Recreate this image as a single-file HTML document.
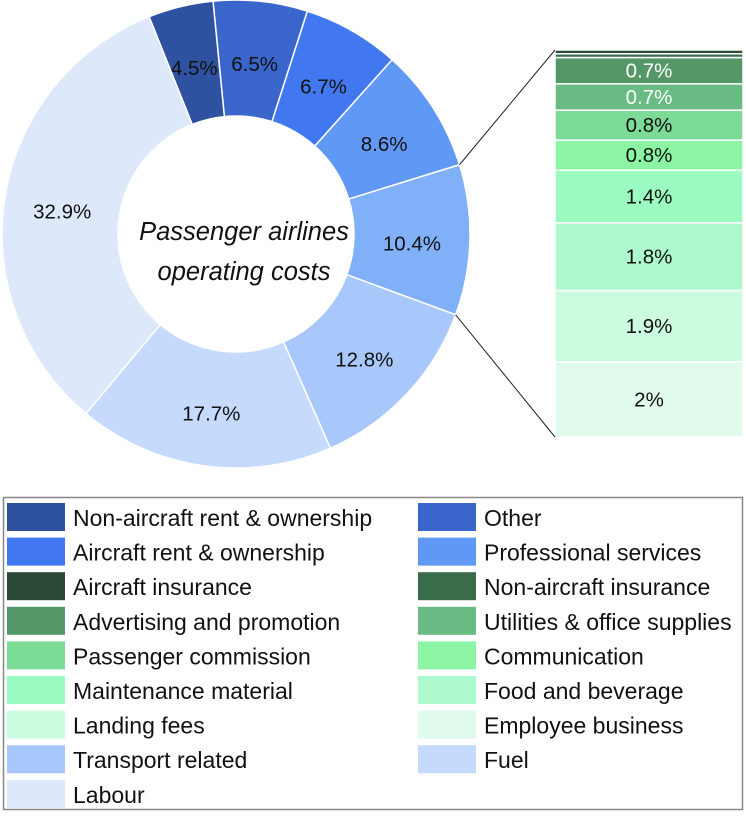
<!DOCTYPE html>
<html><head><meta charset="utf-8">
<style>
body{margin:0;background:#fff;width:746px;height:813px;overflow:hidden;font-family:"Liberation Sans",sans-serif;}
svg text{font-family:"Liberation Sans",sans-serif;}
</style></head>
<body>
<svg id="chart" width="746" height="813">
<g id="pie"></g>
<g id="bar"></g>
<g id="legend"></g>
</svg>
<script>
const pieLabels=["Non-aircraft rent & ownership","Other","Aircraft rent & ownership","Professional services","Other group","Transport related","Fuel","Labour"];
const pieValues=[4.5,6.5,6.7,8.6,10.4,12.8,17.7,32.9];
const pieColors=["#2f52a0","#3a66cc","#4178f0","#5f98f5","#7fb0f8","#a8c8fc","#c5dafc","#dde8fa"];
const barLabels=["Employee business","Landing fees","Food and beverage","Maintenance material","Communication","Passenger commission","Utilities & office supplies","Advertising and promotion","Non-aircraft insurance","Aircraft insurance"];
const barValues=[2,1.9,1.8,1.4,0.8,0.8,0.7,0.7,0.1,0.1];
const barColors=["#e0fbec","#ccfce0","#adf9cd","#9cfbc0","#8cf5a3","#7ddb98","#68bb82","#559868","#3a6b4a","#2a4a35"];
const legendLabels=["Non-aircraft rent & ownership","Other","Aircraft rent & ownership","Professional services","Aircraft insurance","Non-aircraft insurance","Advertising and promotion","Utilities & office supplies","Passenger commission","Communication","Maintenance material","Food and beverage","Landing fees","Employee business","Transport related","Fuel","Labour"];
const legendColors=["#2f52a0","#3a66cc","#4178f0","#5f98f5","#2a4a35","#3a6b4a","#559868","#68bb82","#7ddb98","#8cf5a3","#9cfbc0","#adf9cd","#ccfce0","#e0fbec","#a8c8fc","#c5dafc","#dde8fa"];
const NS="http://www.w3.org/2000/svg";
function mk(t,a,p){const e=document.createElementNS(NS,t);for(const k in a)e.setAttribute(k,a[k]);p.appendChild(e);return e;}
const cx=236,cy=234,R=234,r=118,start=-21.8;
const total=pieValues.reduce((a,b)=>a+b,0);
function pt(deg,rad){const a=(deg-90)*Math.PI/180;return [cx+rad*Math.cos(a),cy+rad*Math.sin(a)];}
const pie=document.getElementById('pie');
let ang=start;const edges=[];
pieValues.forEach((v,i)=>{
 const a0=ang,a1=ang+v/total*360;ang=a1;edges.push([a0,a1]);
 const [x0,y0]=pt(a0,R),[x1,y1]=pt(a1,R),[x2,y2]=pt(a1,r),[x3,y3]=pt(a0,r);
 const lg=(a1-a0)>180?1:0;
 const p=mk('path',{d:`M${x0},${y0}A${R},${R} 0 ${lg} 1 ${x1},${y1}L${x2},${y2}A${r},${r} 0 ${lg} 0 ${x3},${y3}Z`,fill:pieColors[i],stroke:'#fff','stroke-width':1.5},pie);
 
 
 const [tx,ty]=pt((a0+a1)/2,(R+r)/2);
 const t=mk('text',{x:tx,y:ty+12,'text-anchor':'middle','font-size':20.5,fill:'#111'},pie);
 t.textContent=v+'%';
 
 
});
const c1=mk('text',{x:cx+8,y:cy+6,'text-anchor':'middle','font-size':25.5,'font-style':'italic',fill:'#111'},pie);
c1.textContent='Passenger airlines';


const c2=mk('text',{x:cx+8,y:cy+46,'text-anchor':'middle','font-size':25.5,'font-style':'italic',fill:'#111'},pie);
c2.textContent='operating costs';


const bar=document.getElementById('bar');
const bx=555,bw=188,bBottom=437,bTop=50;
const bTotal=barValues.reduce((a,b)=>a+b,0);
const ys=v=>v/bTotal*(bBottom-bTop);
let y=bBottom;
barValues.forEach((v,i)=>{
 const h=ys(v);y-=h;
 const rc=mk('rect',{x:bx,y:y,width:bw,height:h,fill:barColors[i],stroke:'#fff','stroke-width':1.5},bar);
 
 
 if(v>=0.5){
  const t=mk('text',{x:bx+bw/2,y:y+h/2+7,'text-anchor':'middle','font-size':20.5,fill:i>=6?'#fff':'#111'},bar);
  t.textContent=v+'%';
  
  
 }
});
const oe=edges[4];
const [ax,ay]=pt(oe[0],R),[bx2,by2]=pt(oe[1],R);
const l1=mk('line',{x1:ax,y1:ay,x2:bx,y2:bTop,stroke:'#222','stroke-width':1},bar);


const l2=mk('line',{x1:bx2,y1:by2,x2:bx,y2:bBottom,stroke:'#222','stroke-width':1},bar);


const lg=document.getElementById('legend');
const box=mk('rect',{x:3.5,y:497.5,width:739,height:312,fill:'#fff',stroke:'#888','stroke-width':1.5},lg);


legendLabels.forEach((lab,i)=>{
 const col=i%2,row=Math.floor(i/2);
 const sx=col?418:7,sy=503+row*34.6;
 const g=mk('g',{},lg);
 
 
 mk('rect',{x:sx,y:sy,width:58,height:28,fill:legendColors[i]},g);
 const t=mk('text',{x:sx+66,y:sy+23,'font-size':23,fill:'#111'},g);
 t.textContent=lab;
});
</script>
</body></html>
